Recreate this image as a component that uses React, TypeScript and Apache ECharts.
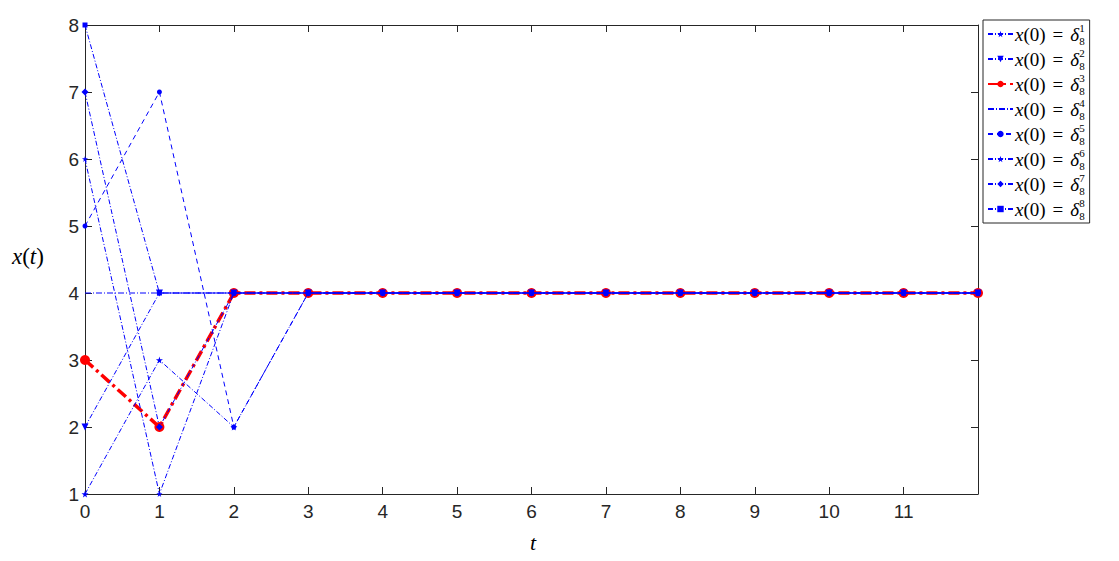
import React, { useEffect, useRef } from "react";
import * as echarts from "echarts";

const tSteps = [0, 1, 2, 3, 4, 5, 6, 7, 8, 9, 10, 11, 12];
const xTickLabels = ["0", "1", "2", "3", "4", "5", "6", "7", "8", "9", "10", "11", ""];
const traj1 = [1, 3, 2, 4, 4, 4, 4, 4, 4, 4, 4, 4, 4];
const traj2 = [2, 4, 4, 4, 4, 4, 4, 4, 4, 4, 4, 4, 4];
const traj3 = [3, 2, 4, 4, 4, 4, 4, 4, 4, 4, 4, 4, 4];
const traj4 = [4, 4, 4, 4, 4, 4, 4, 4, 4, 4, 4, 4, 4];
const traj5 = [5, 7, 2, 4, 4, 4, 4, 4, 4, 4, 4, 4, 4];
const traj6 = [6, 1, 4, 4, 4, 4, 4, 4, 4, 4, 4, 4, 4];
const traj7 = [7, 2, 4, 4, 4, 4, 4, 4, 4, 4, 4, 4, 4];
const traj8 = [8, 4, 4, 4, 4, 4, 4, 4, 4, 4, 4, 4, 4];
const seriesNames = ["d1", "d2", "d3", "d4", "d5", "d6", "d7", "d8"];
const trajectories = [traj1, traj2, traj3, traj4, traj5, traj6, traj7, traj8];

const STAR =
  "path://M50,0 L61,35 L98,35 L68,57 L79,91 L50,70 L21,91 L32,57 L2,35 L39,35 Z";

const BLUE = "#0000ff";
const RED = "#ff0000";
const AXIS = "#262626";
const DASHDOT = [5, 2, 1, 2];

const styles = [
  { symbol: STAR, size: 7, rotate: 0, dash: DASHDOT, color: BLUE, width: 1 },
  { symbol: "triangle", size: 7, rotate: 180, dash: DASHDOT, color: BLUE, width: 1 },
  { symbol: "circle", size: 10, rotate: 0, dash: [11, 4, 3, 4], color: RED, width: 3.5 },
  { symbol: "none", size: 0, rotate: 0, dash: [6, 2, 1, 2], color: BLUE, width: 1 },
  { symbol: "circle", size: 5, rotate: 0, dash: [5, 4], color: BLUE, width: 1 },
  { symbol: STAR, size: 6, rotate: 0, dash: DASHDOT, color: BLUE, width: 1 },
  { symbol: "diamond", size: 7, rotate: 0, dash: DASHDOT, color: BLUE, width: 1 },
  { symbol: "rect", size: 5, rotate: 0, dash: DASHDOT, color: BLUE, width: 1 },
];

export default function App() {
  const ref = useRef<HTMLDivElement>(null);
  useEffect(() => {
    if (!ref.current) return;
    const chart = echarts.init(ref.current, null, { renderer: "svg" });
    const series = trajectories.map((vals, i) => {
      const s = styles[i];
      return {
        name: seriesNames[i],
        type: "line",
        data: tSteps.map((t, j) => [t, vals[j]]),
        symbol: s.symbol,
        symbolSize: s.size,
        symbolRotate: s.rotate,
        showSymbol: s.symbol !== "none",
        clip: false,
        z: i === 2 ? 1 : 3,
        lineStyle: { color: s.color, width: s.width, type: s.dash },
        itemStyle: { color: s.color },
        emphasis: { disabled: true },
      };
    });
    const axisCommon = {
      axisLine: { show: true, onZero: false, lineStyle: { color: AXIS, width: 1 } },
      axisTick: { show: true, inside: true, length: 7, lineStyle: { color: AXIS } },
      splitLine: { show: false },
    };
    const rich = {
      it: { fontFamily: "Liberation Serif", fontStyle: "italic", fontSize: 19, lineHeight: 24 },
      rm: { fontFamily: "Liberation Serif", fontSize: 19, lineHeight: 24 },
      eq: { fontFamily: "Liberation Serif", fontSize: 19, lineHeight: 24, padding: [0, 7, 0, 7] },
      sup: {
        fontFamily: "Liberation Serif",
        fontSize: 11,
        lineHeight: 11,
        width: 0,
        verticalAlign: "top",
      },
      sub: {
        fontFamily: "Liberation Serif",
        fontSize: 11,
        lineHeight: 11,
        verticalAlign: "bottom",
      },
    };
    chart.setOption({
      animation: false,
      backgroundColor: "#ffffff",
      grid: { left: 85, right: 141, top: 25, bottom: 67, containLabel: false },
      xAxis: [
        {
          type: "value",
          min: 0,
          max: 12,
          interval: 1,
          ...axisCommon,
          axisLabel: {
            show: true,
            margin: 8,
            fontFamily: "Liberation Sans",
            fontSize: 19,
            color: AXIS,
            formatter: (v: number) => xTickLabels[Math.round(v)] ?? "",
          },
        },
        {
          type: "value",
          position: "top",
          min: 0,
          max: 12,
          interval: 1,
          ...axisCommon,
          axisLabel: { show: false },
        },
      ],
      yAxis: [
        {
          type: "value",
          min: 1,
          max: 8,
          interval: 1,
          ...axisCommon,
          axisLabel: {
            show: true,
            margin: 6,
            fontFamily: "Liberation Sans",
            fontSize: 19,
            color: AXIS,
          },
        },
        {
          type: "value",
          position: "right",
          min: 1,
          max: 8,
          interval: 1,
          ...axisCommon,
          axisLabel: { show: false },
        },
      ],
      legend: {
        orient: "vertical",
        left: 983,
        top: 20,
        padding: [2, 5, 2, 4],
        itemGap: 1,
        itemWidth: 25,
        itemHeight: 8,
        borderColor: AXIS,
        borderWidth: 1,
        borderRadius: 0,
        backgroundColor: "#ffffff",
        selectedMode: false,
        data: seriesNames.map((n, i) =>
          i === 3 ? { name: n, itemStyle: { opacity: 0 } } : { name: n }
        ),
        formatter: (name: string) => {
          const k = name.slice(1);
          return `{it|x}{rm|(0)}{eq|=}{it|δ}{sup|${k}}{sub|8}`;
        },
        textStyle: {
          color: "#000",
          padding: [0, 0, 0, -3],
          rich,
        },
      },
      graphic: [
        {
          type: "text",
          left: 12,
          top: 245,
          style: {
            text: "{i|x}{r|(}{i|t}{r|)}",
            rich: {
              i: { fontFamily: "Liberation Serif", fontStyle: "italic", fontSize: 23 },
              r: { fontFamily: "Liberation Serif", fontSize: 23 },
            },
            fill: "#000",
          },
        },
        {
          type: "text",
          left: 530,
          top: 531,
          style: {
            text: "t",
            fontFamily: "Liberation Serif",
            fontStyle: "italic",
            fontSize: 22,
            fill: "#000",
          },
        },
      ],
      series,
    });
    return () => chart.dispose();
  }, []);
  return (
    <div
      ref={ref}
      style={{ position: "fixed", left: 0, top: 0, width: 1119, height: 561, background: "#fff" }}
    />
  );
}
